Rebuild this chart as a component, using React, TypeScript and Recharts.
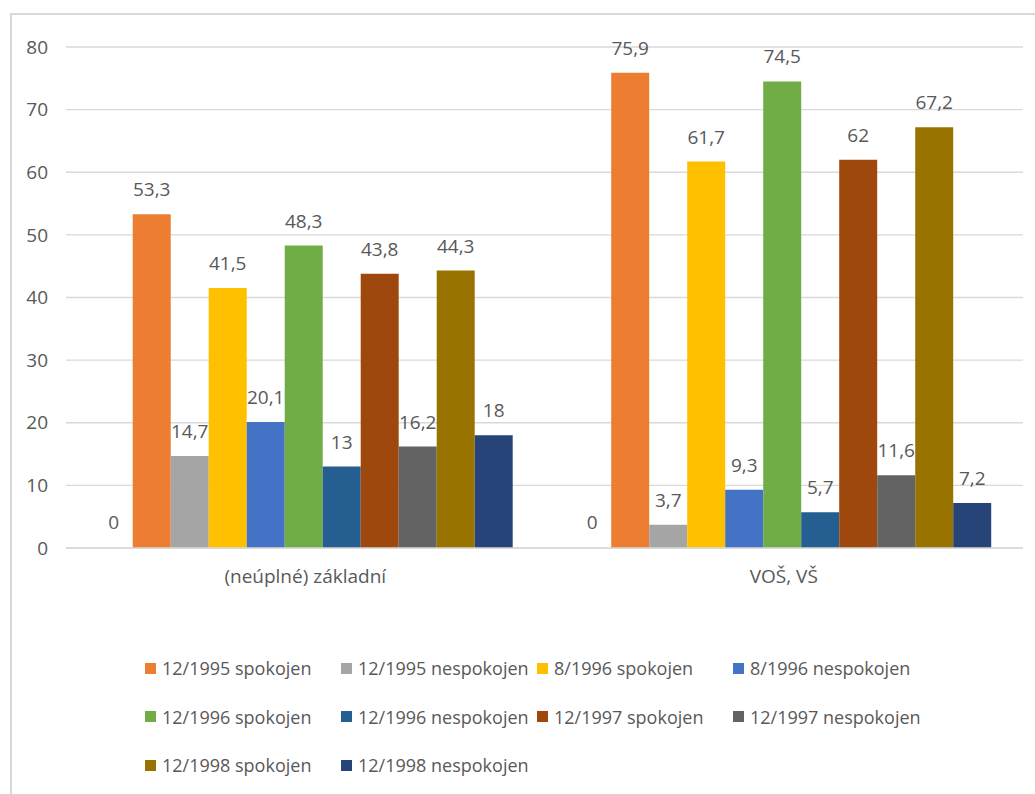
import { BarChart, Bar, XAxis, YAxis, CartesianGrid, Legend, LabelList } from 'recharts'

const categories = ['(neúplné) základní', 'VOŠ, VŠ']

// first series has no legend entry in the original (all zeros)
const seriesNames = [
  '',
  '12/1995 spokojen',
  '12/1995 nespokojen',
  '8/1996 spokojen',
  '8/1996 nespokojen',
  '12/1996 spokojen',
  '12/1996 nespokojen',
  '12/1997 spokojen',
  '12/1997 nespokojen',
  '12/1998 spokojen',
  '12/1998 nespokojen',
]

const seriesColors = [
  'transparent',
  '#ED7D31',
  '#A5A5A5',
  '#FFC000',
  '#4472C4',
  '#70AD47',
  '#255E91',
  '#9E480E',
  '#636363',
  '#997300',
  '#264478',
]

const zakladniValues = [0, 53.3, 14.7, 41.5, 20.1, 48.3, 13, 43.8, 16.2, 44.3, 18]
const vosValues = [0, 75.9, 3.7, 61.7, 9.3, 74.5, 5.7, 62, 11.6, 67.2, 7.2]

const yTicks = [0, 10, 20, 30, 40, 50, 60, 70, 80]

const valueRows = [zakladniValues, vosValues]
const data = categories.map((name, ci) => {
  const row: { [key: string]: string | number } = { name }
  seriesNames.forEach((_, si) => {
    row['s' + si] = valueRows[ci][si]
  })
  return row
})

const FONT = "'Open Sans', sans-serif"
const TEXT = '#595959'

const fmt = (v: unknown) => String(v).replace('.', ',')

function LegendGrid() {
  return (
    <div
      style={{
        display: 'grid',
        gridTemplateColumns: 'repeat(4, 196px)',
        gridAutoRows: '48.5px',
        width: 784,
        height: 146,
        fontFamily: FONT,
        fontSize: 18,
        color: TEXT,
      }}
    >
      {seriesNames.map((n, i) =>
        n === '' ? null : (
          <div key={n} style={{ display: 'flex', alignItems: 'center', whiteSpace: 'nowrap' }}>
            <span
              style={{
                display: 'inline-block',
                width: 11,
                height: 11,
                background: seriesColors[i],
                marginRight: 6,
              }}
            />
            <span>{n}</span>
          </div>
        )
      )}
    </div>
  )
}

export default function App() {
  return (
    <div
      style={{
        position: 'absolute',
        left: 0,
        top: 0,
        width: 1035,
        height: 794,
        overflow: 'hidden',
        background: '#fff',
      }}
    >
      <div
        style={{
          position: 'absolute',
          left: 10,
          top: 13,
          width: 1100,
          height: 900,
          border: '2px solid #d9d9d9',
        }}
      />
      <div style={{ position: 'absolute', left: 0, top: 0 }}>
        <BarChart
          width={1035}
          height={794}
          data={data}
          margin={{ top: 47, right: 12, left: 10, bottom: 60 }}
          barCategoryGap="6%"
          barGap={0}
        >
          <CartesianGrid vertical={false} stroke="#d9d9d9" strokeWidth={1.3} />
          <XAxis
            dataKey="name"
            axisLine={{ stroke: '#d9d9d9', strokeWidth: 1.3 }}
            tickLine={false}
            tickMargin={16}
            height={40}
            tick={{ fill: TEXT, fontSize: 19, fontFamily: FONT }}
          />
          <YAxis
            width={56}
            domain={[0, 80]}
            ticks={yTicks}
            axisLine={false}
            tickLine={false}
            tickMargin={12}
            tick={{ fill: TEXT, fontSize: 19, fontFamily: FONT }}
          />
          <Legend
            verticalAlign="bottom"
            content={() => <LegendGrid />}
            wrapperStyle={{ left: 145, top: 644, width: 784, height: 146 }}
          />
          {seriesNames.map((n, i) => (
            <Bar
              key={'s' + i}
              dataKey={'s' + i}
              name={n}
              fill={seriesColors[i]}
              minPointSize={n === '' ? 1 : 0}
              isAnimationActive={false}
              legendType={n === '' ? 'none' : 'square'}
            >
              <LabelList
                dataKey={'s' + i}
                position="top"
                offset={18}
                formatter={fmt}
                fill={TEXT}
                fontSize={19}
                fontFamily={FONT}
              />
            </Bar>
          ))}
        </BarChart>
      </div>
    </div>
  )
}
